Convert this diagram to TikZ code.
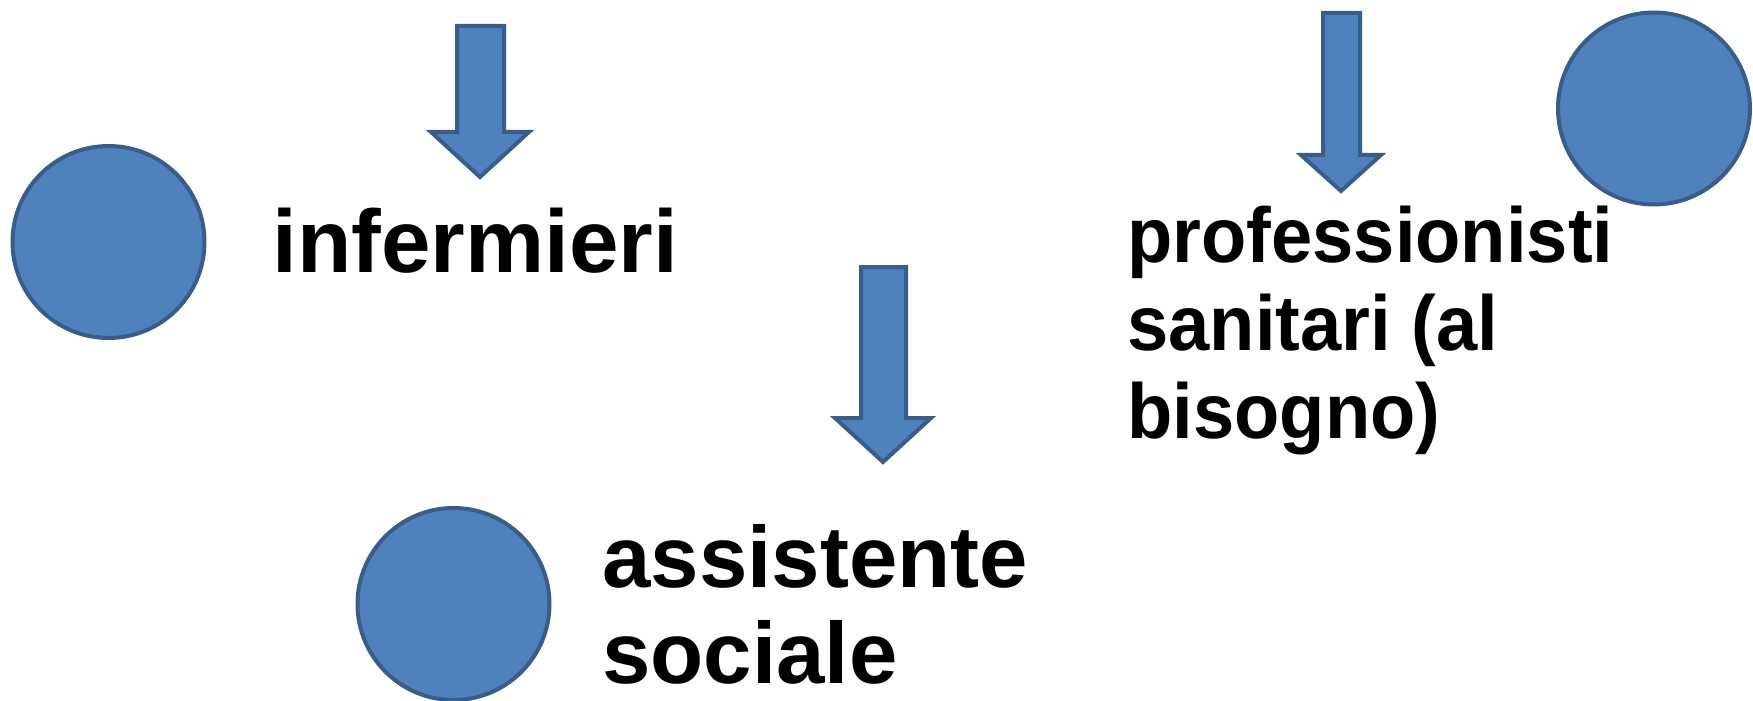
\documentclass[tikz,border=0pt]{standalone}
\usepackage{fontspec}
\setmainfont{Liberation Sans}
\definecolor{fillblue}{HTML}{4F81BD}
\definecolor{lineblue}{HTML}{385D8A}
\begin{document}
\begin{tikzpicture}[x=0.5pt,y=-0.5pt,
  dot/.style={circle, fill=fillblue, draw=lineblue, line width=2pt, inner sep=0pt, minimum size=96pt},
  downarrow/.style={fill=fillblue, draw=lineblue, line width=2pt, line join=miter},
  biglabel/.style={anchor=base west, inner sep=0pt, align=left, font=\fontsize{43.5pt}{48pt}\selectfont\bfseries},
  narrowlabel/.style={anchor=base west, inner sep=0pt, align=left, font=\fontsize{39pt}{44pt}\selectfont\bfseries\addfontfeature{FakeStretch=0.95}}]
\useasboundingbox (0,0) rectangle (1753,701);
% circles
\node[dot] (c1) at (108.5,242) {};
\node[dot] (c2) at (453.5,604) {};
\node[dot] (c3) at (1654,108.5) {};
% arrows
\draw[downarrow] (457,26) -- (504,26) -- (504,132) -- (529,132) -- (480,177) -- (431,132) -- (457,132) -- cycle;
\draw[downarrow] (861,267) -- (906,267) -- (906,418) -- (931,418) -- (883,462) -- (835,418) -- (861,418) -- cycle;
\draw[downarrow] (1323,13) -- (1360,13) -- (1360,155) -- (1381,155) -- (1341,191) -- (1301,155) -- (1323,155) -- cycle;
% labels
\node[biglabel, font=\fontsize{44.5pt}{48pt}\selectfont\bfseries] (t1) at (272,272) {infermieri};
\node[biglabel] (t2) at (602,683) {assistente\\sociale};
\node[narrowlabel] (t3) at (1127,438) {professionisti\\sanitari (al\\bisogno)};
\end{tikzpicture}
\end{document}
